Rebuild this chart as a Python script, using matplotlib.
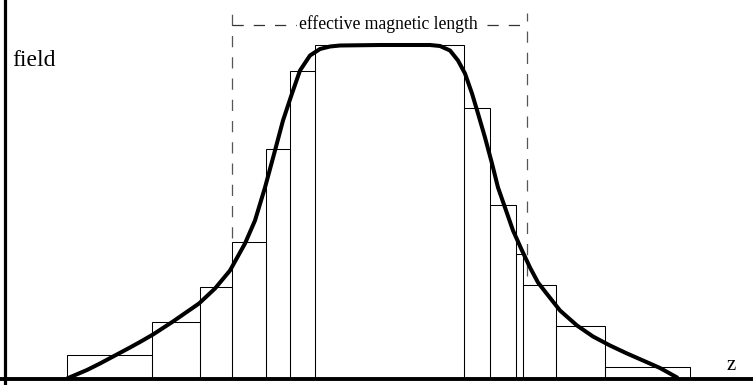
import matplotlib;
matplotlib.use("Agg");
import matplotlib.pyplot as plt;

# bar edges along z and the height of each step (field units, baseline = 0)
barEdges = [67, 152, 200, 232, 266, 290, 315, 464, 490, 516, 523.5, 556, 605.5, 690];
barHeights = [24, 57, 92, 137, 230, 308, 334, 271, 173.5, 125, 93.5, 52.5, 12];

# smooth field profile
curveZ = [67, 87, 100, 115, 130, 140, 153, 173, 199, 215, 230, 245, 255, 265, 275, 283, 292,
          300, 310, 320, 330, 340, 380, 430, 440, 450, 458, 465, 472, 478, 485, 492, 498, 505,
          513, 522, 530, 538, 545, 560, 577, 593, 610, 627, 643, 660, 678];
curveField = [0, 8.5, 15, 23, 31, 36.5, 44, 57, 75, 90, 108, 135, 158, 191, 228, 258, 285,
              308, 323, 329.5, 332, 333, 333.5, 333.5, 332.5, 328, 318, 305, 285, 265, 241, 215, 191, 171,
              148, 128, 111, 96, 87, 68, 53, 42, 33, 25, 18, 10.5, 0.5];

# effective magnetic length markers
effStart = 232;
effEnd = 527;
effLevel = 354;
effTop = 366;
effBottomLeft = 141;
effBottomRight = 103;

def main():
    fig = plt.figure(figsize=(7.53, 3.85), dpi=100);
    ax = fig.add_axes([0, 0, 1, 1]);
    ax.set_xlim(0, 753);
    ax.set_ylim(-6.5, 378.5);

    widths = [barEdges[i + 1] - barEdges[i] for i in range(len(barHeights))];
    ax.bar(barEdges[:-1], barHeights, width=widths, align="edge",
           facecolor="none", edgecolor="black", linewidth=0.75, zorder=2);

    ax.plot(curveZ, curveField, color="black", linewidth=2.9,
            solid_joinstyle="round", solid_capstyle="butt", zorder=4);

    dash = (0, (9, 8));
    ax.plot([effStart, effStart], [effBottomLeft, effTop], color="#555555",
            linewidth=0.9, linestyle=dash, zorder=3);
    ax.plot([effEnd, effEnd], [effBottomRight, effTop], color="#555555",
            linewidth=0.9, linestyle=dash, zorder=3);
    ax.plot([effStart, effEnd], [effLevel, effLevel], color="#333333",
            linewidth=0.9, linestyle=dash, zorder=3);
    ax.text(388, effLevel, "effective magnetic length", family="Liberation Serif",
            fontsize=12.7, ha="center", va="center", zorder=5,
            bbox=dict(facecolor="white", edgecolor="none", pad=1.5));

    ax.text(12, 312, "field", family="Liberation Serif", fontsize=17,
            ha="left", va="baseline");
    ax.text(727, 8, "z", family="Liberation Serif", fontsize=15,
            ha="left", va="baseline");

    for side in ["top", "right"]:
        ax.spines[side].set_visible(False);
    ax.spines["left"].set_position(("data", 5));
    ax.spines["left"].set_linewidth(2.3);
    ax.spines["bottom"].set_position(("data", 0));
    ax.spines["bottom"].set_linewidth(2.8);
    ax.set_xticks([]);
    ax.set_yticks([]);
    ax.set_facecolor("white");

    fig.savefig("out.png", dpi=100, facecolor="white");

if __name__ == "__main__":
    main();
